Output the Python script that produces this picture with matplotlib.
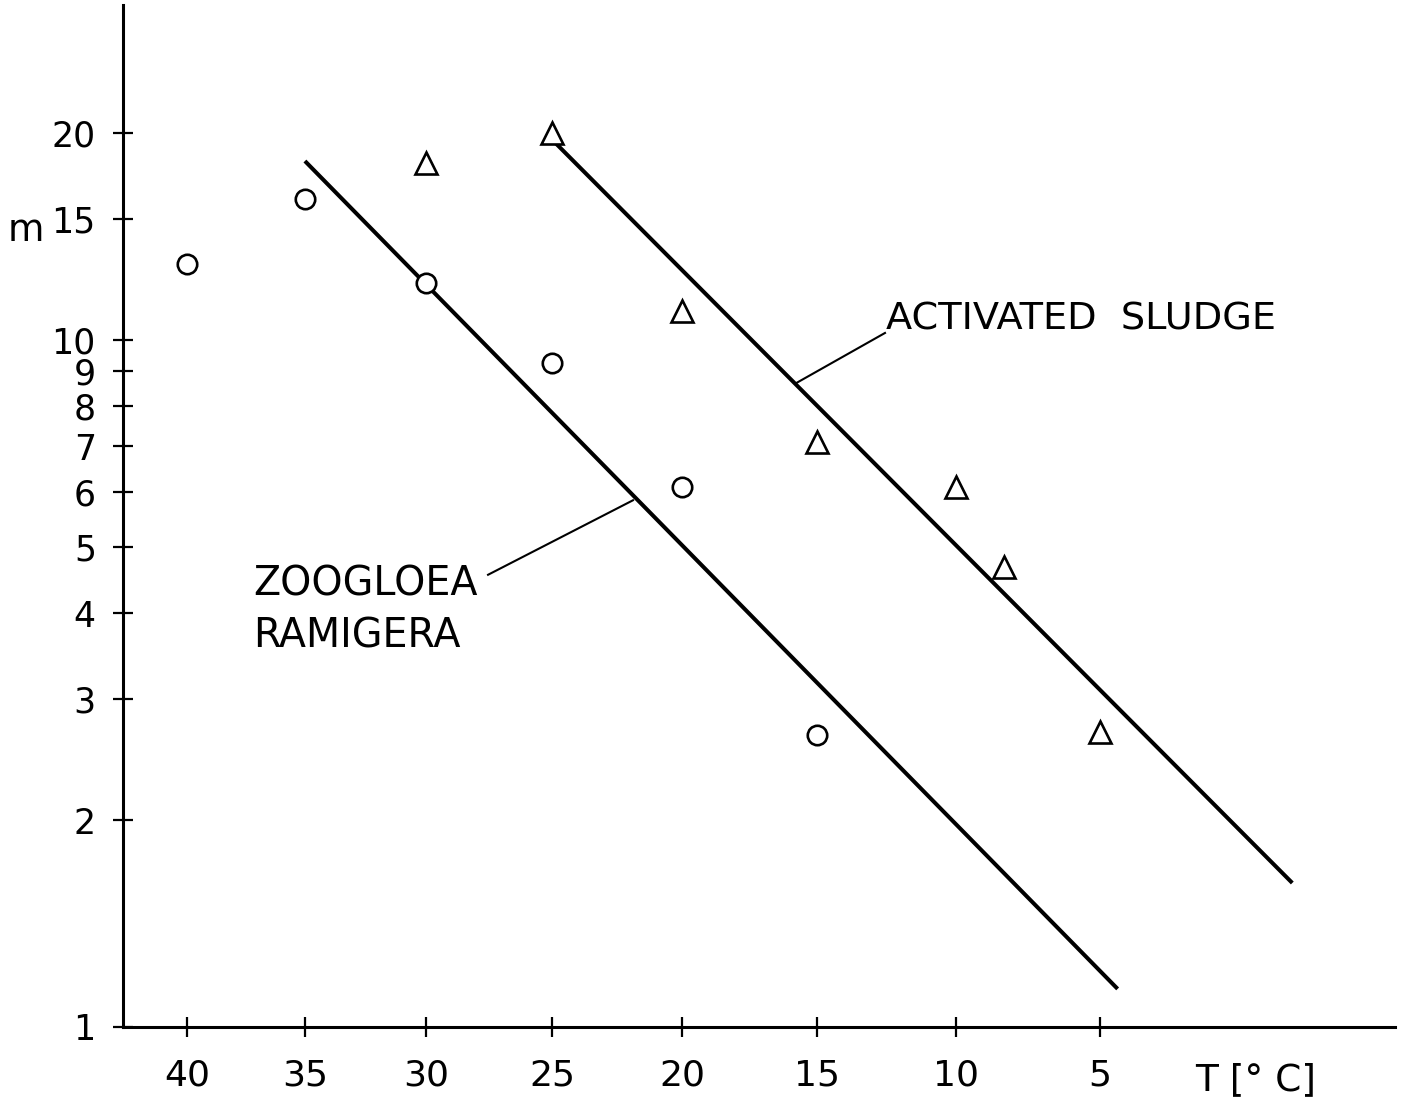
import numpy as np
import matplotlib
matplotlib.use('Agg')
import matplotlib.pyplot as plt
import matplotlib as mpl
from matplotlib.ticker import NullLocator, FixedLocator, FixedFormatter


# ========================= Style du graphique ========================= #

style = {
    'font.family'     : 'DejaVu Sans',
    'font.size'       : 27,
    'axes.linewidth'  : 2.2,
    'xtick.direction' : 'inout',
    'ytick.direction' : 'inout',
    'xtick.major.size'  : 14,
    'ytick.major.size'  : 15,
    'xtick.major.width' : 1.6,
    'ytick.major.width' : 1.6,
    'xtick.labelsize' : 26,
    'ytick.labelsize' : 25,
}
mpl.rcParams.update(style)


# ============================== Données ============================== #

# Zoogloea ramigera (cercles)
T_zoo = [40, 35, 30, 25, 20, 15]
m_zoo = [12.9, 16.0, 12.1, 9.25, 6.1, 2.66]

# Boues activées (triangles)
T_boues = [30, 25, 20, 15, 10, 8.3, 5]
m_boues = [18.1, 20.0, 11.0, 7.1, 6.1, 4.67, 2.69]

# Droites d'ajustement (extrémités)
T_droite_zoo   = [35, 4.4]
m_droite_zoo   = [18.2, 1.136]
T_droite_boues = [25, -1.4]
m_droite_boues = [19.55, 1.62]

# Graduations
x_ticks = [40, 35, 30, 25, 20, 15, 10, 5]
y_ticks = [1, 2, 3, 4, 5, 6, 7, 8, 9, 10, 15, 20]


# ====================== Échelle en 1/T (Arrhenius) ====================== #

# -1/T (en K) : fonction croissante, l'axe est ensuite inversé par xlim
def moins_inv_T(t):
    return -1.0 / (np.asarray(t, dtype=float) + 273.15)

def moins_inv_T_inverse(u):
    return -1.0 / np.asarray(u, dtype=float) - 273.15


# ============================== Figure ============================== #

fig = plt.figure(figsize=(14.13, 11.07), dpi=100)
ax = fig.add_axes([0.0870, 0.0723, 0.9003, 0.9232])

ax.set_xscale('function', functions=(moins_inv_T, moins_inv_T_inverse))
ax.set_yscale('log')
ax.set_xlim(42.8, -4.7)
ax.set_ylim(1, 30.7)

# Droites
ax.plot(T_droite_zoo, m_droite_zoo, color='black', lw=2.9, solid_capstyle='butt', zorder=2)
ax.plot(T_droite_boues, m_droite_boues, color='black', lw=2.9, solid_capstyle='butt', zorder=2)

# Points de mesure
ax.plot(T_zoo, m_zoo, 'o', ms=14, mfc='white', mec='black', mew=1.9, zorder=3)
ax.plot(T_boues, m_boues, '^', ms=16, mfc='white', mec='black', mew=1.9, zorder=3)

# Légendes avec traits de rappel
ax.plot([15.72, 12.52], [8.66, 10.23], color='black', lw=1.5)
ax.text(12.5, 10.34, 'ACTIVATED  SLUDGE', ha='left', va='baseline', fontsize=27.5)
ax.plot([21.87, 27.53], [5.84, 4.55], color='black', lw=1.5)
ax.text(37.18, 4.25, 'ZOOGLOEA', ha='left', va='baseline', fontsize=28.5)
ax.text(37.18, 3.57, 'RAMIGERA', ha='left', va='baseline', fontsize=28.5)

# Axes
for cote in ['top', 'right']:
    ax.spines[cote].set_visible(False)

ax.xaxis.set_major_locator(FixedLocator(x_ticks))
ax.xaxis.set_major_formatter(FixedFormatter([str(t) for t in x_ticks]))
ax.xaxis.set_minor_locator(NullLocator())
ax.yaxis.set_major_locator(FixedLocator(y_ticks))
ax.yaxis.set_major_formatter(FixedFormatter([str(v) for v in y_ticks]))
ax.yaxis.set_minor_locator(NullLocator())
ax.tick_params(axis='x', pad=16)
ax.tick_params(axis='y', pad=12)

ax.set_xlabel('T [° C]', fontsize=27)
ax.xaxis.set_label_coords(0.8907, -0.034)
ax.xaxis.label.set_va('top')

ax.set_ylabel('m', rotation=0, fontsize=27, ha='center', va='baseline')
ax.yaxis.set_label_coords(-0.0763, 0.769)

fig.savefig('out.png', dpi=100)
